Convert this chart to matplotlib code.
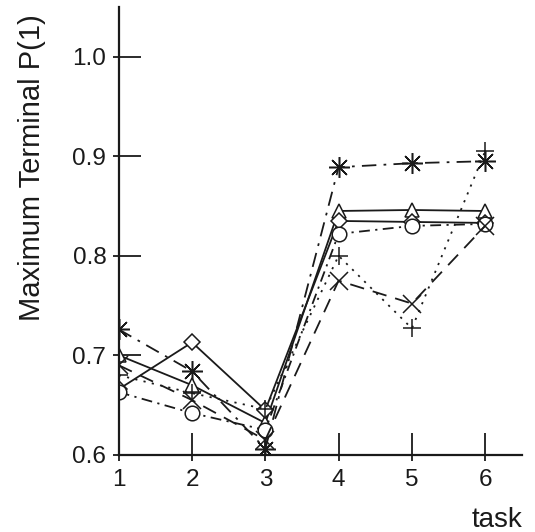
import matplotlib
matplotlib.use('Agg')
import matplotlib.pyplot as plt
import numpy as np

plt.rcParams['font.family'] = ['Liberation Sans', 'DejaVu Sans']

tasks = [1, 2, 3, 4, 5, 6]
star_vals = [0.726, 0.684, 0.606, 0.889, 0.893, 0.895]
tri_vals = [0.700, 0.670, 0.632, 0.845, 0.846, 0.845]
diam_vals = [0.666, 0.713, 0.645, 0.835, 0.834, 0.833]
plus_vals = [0.680, 0.662, 0.646, 0.800, 0.727, 0.905]
circ_vals = [0.663, 0.642, 0.625, 0.822, 0.830, 0.832]
x_vals = [0.690, 0.655, 0.615, 0.775, 0.752, 0.830]
yticks = [0.6, 0.7, 0.8, 0.9, 1.0]

ink = '#1a1a1a'

fig = plt.figure(figsize=(5.35, 5.32), dpi=100)
ax = fig.add_axes([0.222, 0.145, 0.754, 0.842])

kw = dict(color=ink, lw=1.3, mfc='white', mec=ink, mew=1.1)
ax.plot(tasks, star_vals, ls=(0, (8, 4, 1.5, 4)), marker=(8, 2, 0), ms=15, **kw)
ax.plot(tasks, tri_vals, ls='-', marker='^', ms=10, **kw)
ax.plot(tasks, diam_vals, ls='-', marker='D', ms=8.5, **kw)
ax.plot(tasks, plus_vals, ls=(0, (1.2, 3.5)), marker='+', ms=13, **kw)
ax.plot(tasks, circ_vals, ls=(0, (6, 3, 1.2, 3)), marker='o', ms=10.5, **kw)
ax.plot(tasks, x_vals, ls=(0, (8, 5)), marker='x', ms=13, **kw)

ax.set_xlim(1, 6.505)
ax.set_ylim(0.6, 1.05)
ax.set_xticks(tasks)
ax.set_yticks(yticks)
ax.set_yticklabels(['0.6', '0.7', '0.8', '0.9', '1.0'])

# ticks poke a little outside the spine, mostly inside
ax.set_xticks(tasks, minor=True)
ax.set_yticks(yticks, minor=True)
ax.xaxis.remove_overlapping_locs = False
ax.yaxis.remove_overlapping_locs = False
ax.tick_params(which='major', direction='in', length=16, width=1.3, color=ink,
               labelsize=17.5, labelcolor=ink, pad=9)
ax.tick_params(axis='x', which='major', pad=10)
ax.tick_params(which='minor', direction='out', length=4, width=1.3, color=ink)

for s in ['top', 'right']:
    ax.spines[s].set_visible(False)
for s in ['left', 'bottom']:
    ax.spines[s].set_linewidth(1.6)
    ax.spines[s].set_color(ink)

fig.text(32 / 535, 1 - 168 / 532, 'Maximum Terminal P(1)', rotation=90,
         ha='center', va='center', fontsize=21, color=ink)
ax.set_xlabel('task', fontsize=20, color=ink, loc='right', labelpad=12)

fig.savefig('out.png', dpi=100)
